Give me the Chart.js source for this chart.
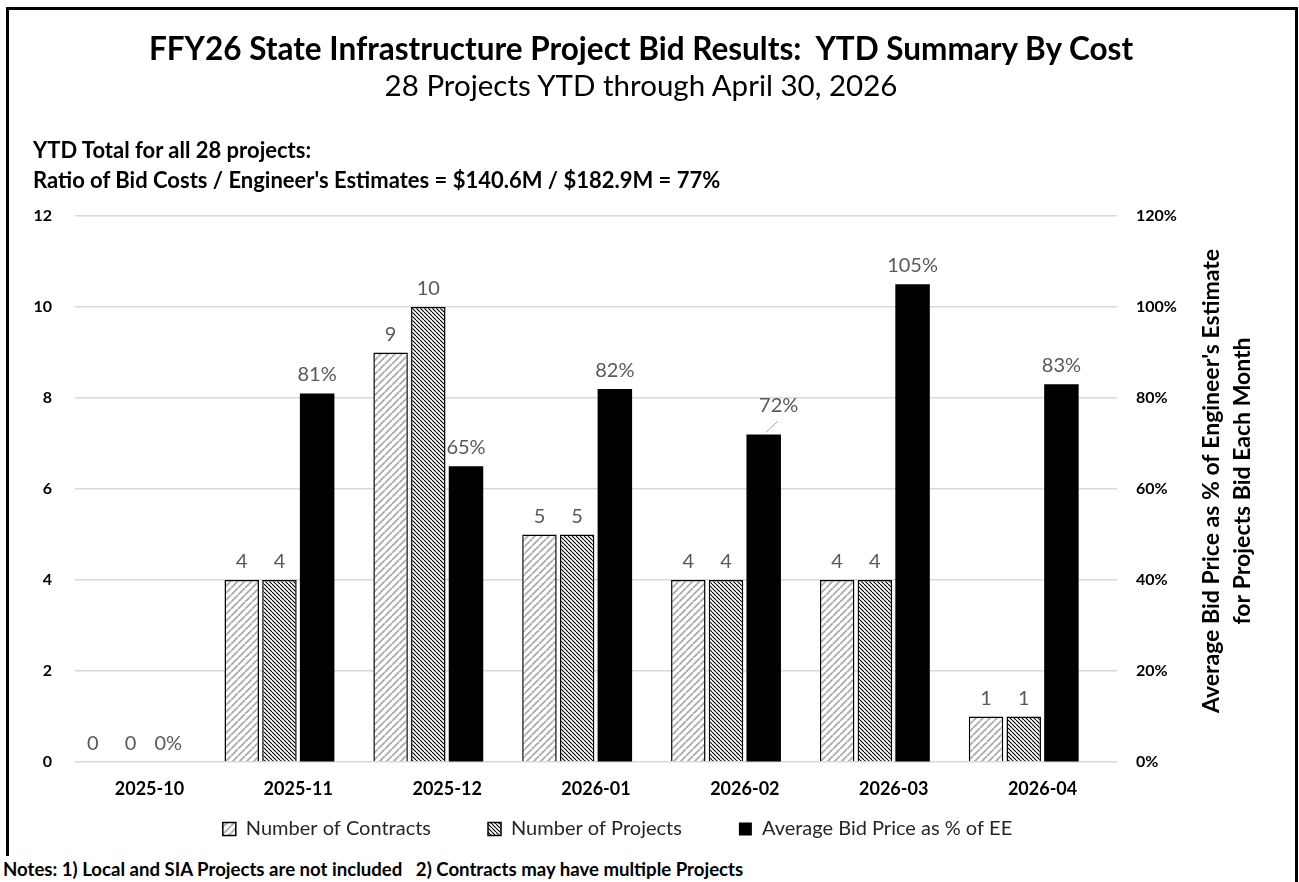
<!DOCTYPE html>
<html>
<head>
<meta charset="utf-8">
<script src="https://cdn.jsdelivr.net/npm/chart.js@4.4.1/dist/chart.umd.min.js"></script>
<style>
  body { margin: 0; width: 1299px; height: 882px; overflow: hidden; position: relative; background: #fff; font-family: Lato, sans-serif; }
  #frame { position: absolute; left: 6px; top: 7px; width: 1292px; height: 900px; border: 3px solid #000; border-bottom: none; box-sizing: border-box; }
  #chartBox { position: absolute; left: 0; top: 0; width: 1299px; height: 882px; }
  .title { position: absolute; left: 0; width: 1282px; text-align: center; color: #000; white-space: nowrap; }
  #t1 { top: 29px; font-size: 31.5px; font-weight: bold; line-height: 38px; }
  #t2 { top: 67px; font-size: 29.5px; line-height: 36px; }
  .ytd { position: absolute; left: 33px; font-size: 22px; font-weight: bold; line-height: 24px; white-space: nowrap; }
  #notes { position: absolute; left: 0; top: 856px; padding: 2px 4px 0 3px; height: 26px; box-sizing: border-box; background: #fff; font-size: 18.6px; font-weight: bold; line-height: 22px; white-space: nowrap; }
</style>
</head>
<body>
<div id="frame"></div>
<div id="chartBox"><canvas id="myChart" width="1299" height="882"></canvas></div>
<div class="title" id="t1">FFY26 State Infrastructure Project Bid Results:&nbsp; YTD Summary By Cost</div>
<div class="title" id="t2">28 Projects YTD through April 30, 2026</div>
<div class="ytd" style="top:138px">YTD Total for all 28 projects:</div>
<div class="ytd" style="top:168px">Ratio of Bid Costs / Engineer's Estimates = $140.6M / $182.9M = 77%</div>
<div id="notes">Notes: 1) Local and SIA Projects are not included &nbsp; 2) Contracts may have multiple Projects</div>
<script>
// datos
const meses = ["2025-10", "2025-11", "2025-12", "2026-01", "2026-02", "2026-03", "2026-04"];
const contratos = [0, 4, 9, 5, 4, 4, 1];
const proyectos = [0, 4, 10, 5, 4, 4, 1];
const precioMedio = [0, 81, 65, 82, 72, 105, 83];
const nadaHueco = [null, null, null, null, null, null, null];

// patrones de relleno
function rayas(size, color, width, sube) {
  const c = document.createElement("canvas");
  c.width = size; c.height = size;
  const g = c.getContext("2d");
  g.fillStyle = "#fff";
  g.fillRect(0, 0, size, size);
  g.strokeStyle = color;
  g.lineWidth = width;
  g.beginPath();
  for (let k = -1; k <= 1; k++) {
    if (sube) {
      g.moveTo(k * size, size); g.lineTo(k * size + size, 0);
    } else {
      g.moveTo(k * size, 0); g.lineTo(k * size + size, size);
    }
  }
  g.stroke();
  return g.createPattern(c, "repeat");
}
const patContratos = rayas(7, "#ababab", 1.8, true);
const patProyectos = rayas(4, "#000", 1.1, false);

const etiquetas = {
  id: "etiquetas",
  afterDatasetsDraw(chart) {
    const ctx = chart.ctx;
    ctx.save();
    ctx.font = "20px Lato";
    ctx.fillStyle = "#595959";
    ctx.textAlign = "center";
    ctx.textBaseline = "alphabetic";
    [0, 1, 2].forEach((di) => {
      const meta = chart.getDatasetMeta(di);
      meta.data.forEach((bar, i) => {
        const v = chart.data.datasets[di].data[i];
        let txt = di === 2 ? v + "%" : String(v);
        let x = bar.x, y = bar.y - 12;
        if (di === 2 && i === 4) {
          // linea guia del 72%
          ctx.strokeStyle = "#a6a6a6";
          ctx.lineWidth = 1;
          ctx.beginPath();
          ctx.moveTo(bar.x + 2, bar.y - 2);
          ctx.lineTo(bar.x + 14, bar.y - 13);
          ctx.stroke();
          x += 15; y -= 10;
        }
        ctx.fillText(txt, x, y);
      });
    });
    ctx.restore();
  },
  afterDraw(chart) {
    const ctx = chart.ctx;
    const a = chart.chartArea;
    ctx.save();
    ctx.translate(1227, (a.top + a.bottom) / 2 - 8);
    ctx.rotate(-Math.PI / 2);
    ctx.font = "bold 23px Lato";
    ctx.fillStyle = "#000";
    ctx.textAlign = "center";
    ctx.textBaseline = "middle";
    ctx.fillText("Average Bid Price as % of Engineer's Estimate", 0, -15);
    ctx.fillText("for Projects Bid Each Month", 0, 16);
    ctx.restore();
  }
};

const data = {
  labels: meses,
  datasets: [
    { label: "Number of Contracts", data: contratos, yAxisID: "y", backgroundColor: patContratos, borderColor: "#000", borderWidth: 1.5 },
    { label: "Number of Projects", data: proyectos, yAxisID: "y", backgroundColor: patProyectos, borderColor: "#000", borderWidth: 1.5 },
    { label: "Average Bid Price as % of EE", data: precioMedio, yAxisID: "y2", backgroundColor: "#000", borderColor: "#000", borderWidth: 0 },
    { label: "hueco", data: nadaHueco, yAxisID: "y", backgroundColor: "rgba(0,0,0,0)" },
  ],
};

const config = {
  type: "bar",
  data,
  options: {
    responsive: false,
    animation: false,
    categoryPercentage: 1.013,
    barPercentage: 0.915,
    layout: { padding: { top: 216, left: 0, right: 64, bottom: 33 } },
    plugins: {
      tooltip: { enabled: false },
      legend: {
        position: "bottom",
        labels: {
          filter: (item) => item.text !== "hueco",
          boxWidth: 13,
          boxHeight: 13,
          padding: 57,
          color: "#262626",
          font: { family: "Lato", size: 20 },
        },
      },
    },
    scales: {
      x: {
        position: { y: 0 },
        grid: { display: false },
        border: { display: false },
        ticks: { color: "#000", font: { family: "Lato", size: 18, weight: "bold" }, padding: 8 },
        afterFit: (s) => { s.height = 3; },
      },
      y: {
        min: 0, max: 12,
        ticks: { stepSize: 2, color: "#000", font: { family: "Lato", size: 16, weight: "bold" }, padding: 23 },
        grid: { color: "#d9d9d9", lineWidth: 1.5, drawTicks: false },
        border: { display: false },
        afterFit: (s) => { s.width = 75; },
      },
      y2: {
        position: "right",
        min: 0, max: 120,
        ticks: { stepSize: 20, color: "#000", font: { family: "Lato", size: 16, weight: "bold" }, padding: 19, callback: (v) => v + "%" },
        grid: { drawOnChartArea: false, drawTicks: false },
        border: { display: false },
        afterFit: (s) => { s.width = 1299 - 64 - 1117; },
      },
    },
  },
  plugins: [etiquetas],
};

var myChart = new Chart(document.getElementById("myChart"), config);
</script>
</body>
</html>
